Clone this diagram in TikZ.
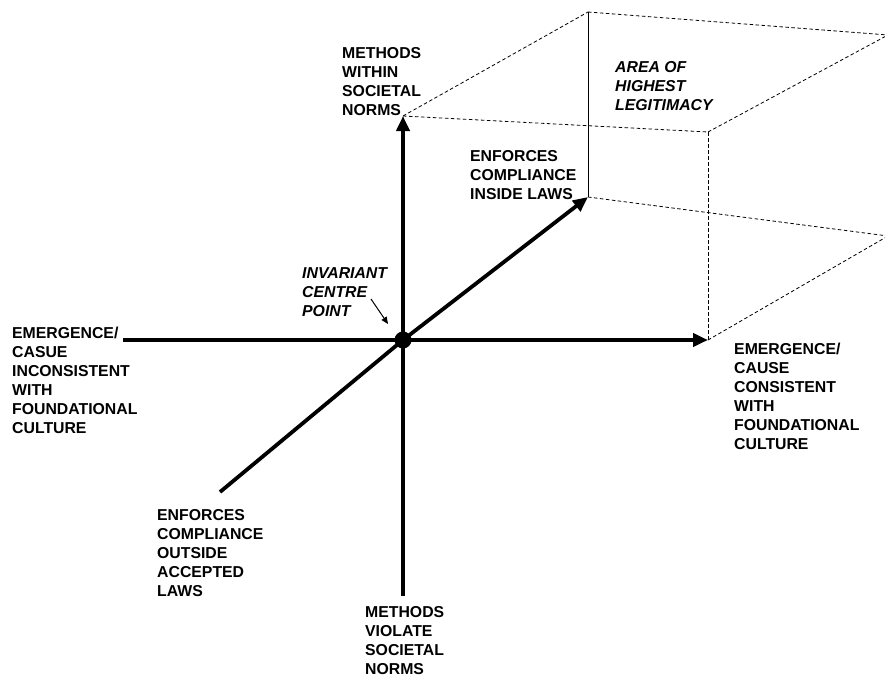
\documentclass[tikz,border=0pt]{standalone}
\usepackage{fontspec}
\setmainfont{Liberation Sans}
\usetikzlibrary{arrows.meta}
\begin{document}
\begin{tikzpicture}[x=1pt,y=-1pt,
  axis/.style={line width=3.8pt},
  axisarrow/.style={line width=3.8pt,-{Triangle[length=15pt,width=13pt]}},
  boxline/.style={line width=0.8pt,dash pattern=on 3.5pt off 2.5pt},
  lbl/.style={anchor=north west,inner sep=0pt,align=left,font=\fontsize{15.8}{19}\selectfont\bfseries},
  ilbl/.style={lbl,font=\fontsize{15.8}{19}\selectfont\bfseries\itshape}]
\useasboundingbox (0,0) rectangle (885,677);
\begin{scope}
\clip (0,0) rectangle (885,677);
% key points
\coordinate (C) at (403,340);
\coordinate (U) at (403,116);
\coordinate (R) at (708,340);
\coordinate (D) at (588,197);
\coordinate (L) at (123,340);
\coordinate (B) at (403,596);
\coordinate (DL) at (220,492);
\coordinate (UD) at (588,12);
\coordinate (UR) at (708,132);
\coordinate (UDR) at (888,35);
\coordinate (DR) at (888,236);
% box
\draw[boxline] (U) -- (UD);
\draw[boxline] (U) -- (UR);
\draw[boxline] (UR) -- (R);
\draw[boxline] (UD) -- (UDR);
\draw[boxline] (UR) -- (UDR);
\draw[boxline] (D) -- (DR);
\draw[boxline] (R) -- (DR);
\draw[line width=0.9pt] (D) -- (UD);
\end{scope}
% axes
\draw[axis] (L) -- (C);
\draw[axisarrow] (C) -- (R);
\draw[axis] (B) -- (C);
\draw[axisarrow] (C) -- (U);
\draw[axis] (DL) -- (C);
\draw[axisarrow] (C) -- (D);
\fill (C) circle (8.5pt);
% labels
\node[lbl] (top) at (342,47) {METHODS\\WITHIN\\SOCIETAL\\NORMS};
\node[lbl] (inside) at (470,150) {ENFORCES\\COMPLIANCE\\INSIDE LAWS};
\node[ilbl] (area) at (615,61) {AREA OF\\HIGHEST\\LEGITIMACY};
\node[ilbl] (inv) at (302,267) {INVARIANT\\CENTRE\\POINT};
\node[lbl] (left) at (12,327) {EMERGENCE/\\CASUE\\INCONSISTENT\\WITH\\FOUNDATIONAL\\CULTURE};
\node[lbl] (right) at (734,343) {EMERGENCE/\\CAUSE\\CONSISTENT\\WITH\\FOUNDATIONAL\\CULTURE};
\node[lbl] (outside) at (157,509) {ENFORCES\\COMPLIANCE\\OUTSIDE\\ACCEPTED\\LAWS};
\node[lbl] (bottom) at (365,606) {METHODS\\VIOLATE\\SOCIETAL\\NORMS};
% pointer
\coordinate (pstart) at (371,299);
\coordinate (ptip) at (388,324);
\draw[line width=1pt,-{Triangle[length=7pt,width=6pt]}] (pstart) -- (ptip);
\end{tikzpicture}
\end{document}
